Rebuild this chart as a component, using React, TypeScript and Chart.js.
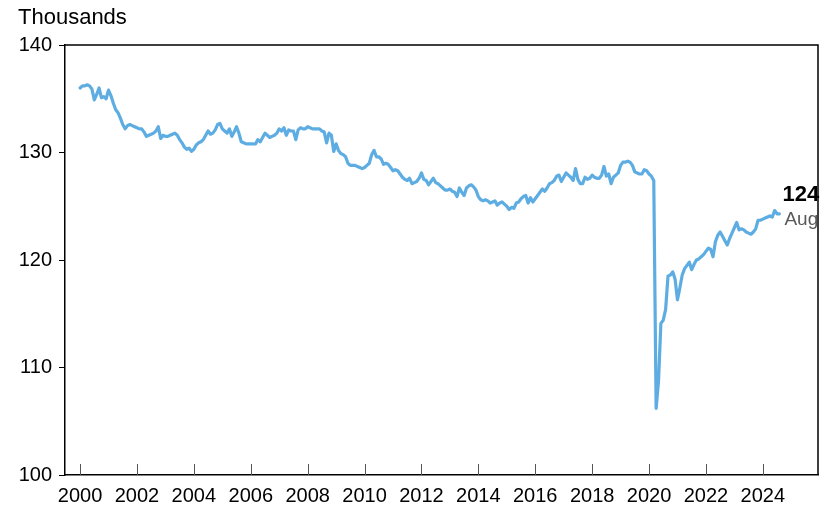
import React, { useEffect, useRef } from "react";
import { Chart, registerables } from "chart.js";

Chart.register(...registerables);

// Monthly values (thousands), Jan 2000 – Aug 2024
const values2000to2004 = [
  136.0, 136.2, 136.2, 136.3, 136.2, 135.9, 134.9, 135.4, 136.0, 135.1, 135.2, 135.0,
  135.8, 135.3, 134.6, 134.0, 133.7, 133.2, 132.6, 132.2, 132.5, 132.6, 132.5, 132.4,
  132.3, 132.2, 132.2, 131.9, 131.5, 131.6, 131.7, 131.8, 132.0, 132.4, 131.3, 131.6,
  131.5, 131.5, 131.6, 131.7, 131.8, 131.6, 131.2, 130.9, 130.5, 130.3, 130.4, 130.1,
  130.3, 130.7, 130.9, 131.0, 131.2, 131.6, 132.0, 131.7, 131.8, 132.1, 132.6, 132.7,
];
const values2005to2009 = [
  132.2, 132.0, 131.8, 132.2, 131.5, 131.9, 132.4, 131.8, 131.0, 130.9, 130.8, 130.8,
  130.8, 130.8, 130.8, 131.2, 131.0, 131.4, 131.8, 131.6, 131.4, 131.5, 131.6, 131.8,
  132.2, 132.0, 132.3, 131.6, 132.1, 132.0, 132.0, 131.2, 132.1, 132.3, 132.2, 132.2,
  132.4, 132.3, 132.2, 132.2, 132.2, 132.2, 132.0, 131.9, 130.9, 131.8, 131.6, 130.1,
  130.8, 130.2, 129.9, 129.8, 129.6, 129.0, 128.8, 128.8, 128.8, 128.7, 128.6, 128.5,
];
const values2010to2014 = [
  128.6, 128.8, 129.0, 129.8, 130.2, 129.6, 129.6, 129.4, 128.9, 129.0, 128.9, 128.6,
  128.3, 128.4, 128.3, 128.0, 127.7, 127.5, 127.4, 127.6, 127.1, 127.2, 127.3, 127.6,
  128.1, 127.5, 127.4, 127.0, 127.3, 127.6, 127.2, 127.1, 126.9, 126.7, 126.5, 126.5,
  126.6, 126.4, 126.3, 125.9, 126.7, 126.3, 126.0, 126.7, 126.9, 127.0, 126.8, 126.5,
  125.9, 125.6, 125.5, 125.6, 125.5, 125.3, 125.4, 125.5, 125.1, 125.3, 125.4, 125.2,
];
const values2015to2019 = [
  125.0, 124.7, 124.9, 124.8, 125.3, 125.4, 125.7, 125.9, 126.0, 125.3, 125.8, 125.4,
  125.7, 126.0, 126.3, 126.6, 126.4, 126.7, 127.1, 127.2, 127.4, 127.8, 127.9, 127.3,
  127.7, 128.1, 127.9, 127.7, 127.4, 128.5, 127.5, 127.1, 127.1, 127.7, 127.5, 127.6,
  127.9, 127.7, 127.6, 127.6, 127.9, 128.7, 127.8, 128.0, 127.1, 127.7, 127.9, 128.1,
  128.8, 129.1, 129.1, 129.2, 129.1, 128.8, 128.2, 128.1, 128.0, 128.0, 128.4, 128.3,
];
const values2020to2024 = [
  128.0, 127.8, 127.4, 106.2, 108.7, 114.1, 114.4, 115.4, 118.5, 118.6, 118.9, 118.2,
  116.3, 117.4, 118.6, 119.2, 119.5, 119.8, 119.1, 119.6, 120.0, 120.1, 120.3, 120.5,
  120.8, 121.1, 121.0, 120.3, 121.7, 122.3, 122.6, 122.2, 121.8, 121.4, 122.0, 122.5,
  123.0, 123.5, 122.8, 122.9, 122.8, 122.6, 122.5, 122.4, 122.6, 122.9, 123.7, 123.7,
  123.8, 123.9, 124.0, 124.1, 124.0, 124.6, 124.3, 124.3,
];

const startYear = 2000;
const xTickYears = [2000, 2002, 2004, 2006, 2008, 2010, 2012, 2014, 2016, 2018, 2020, 2022, 2024];
const yTicks = [100, 110, 120, 130, 140];
const unitLabel = "Thousands";
const lastValueLabel = "124";
const lastMonthLabel = "Aug";

const FONT = "'Liberation Sans', Arial, Helvetica, sans-serif";
const LINE_COLOR = "#5eade2";

export default function App() {
  const canvasRef = useRef<HTMLCanvasElement | null>(null);

  useEffect(() => {
    const canvas = canvasRef.current;
    if (!canvas) return;
    const allValues = [
      ...values2000to2004,
      ...values2005to2009,
      ...values2010to2014,
      ...values2015to2019,
      ...values2020to2024,
    ];
    const points = allValues.map((v, i) => ({ x: startYear + i / 12, y: v }));

    const framePlugin = {
      id: "frameAndText",
      afterDraw(chart: any) {
        const { ctx, chartArea, scales } = chart;
        const xs = scales.x;
        const ys = scales.y;
        ctx.save();
        // top & right frame
        ctx.strokeStyle = "#000";
        ctx.lineWidth = 1.5;
        ctx.beginPath();
        ctx.moveTo(chartArea.left, chartArea.top);
        ctx.lineTo(chartArea.right, chartArea.top);
        ctx.lineTo(chartArea.right, chartArea.bottom);
        ctx.stroke();
        // inward x ticks
        ctx.strokeStyle = "#555";
        ctx.lineWidth = 1;
        xs.ticks.forEach((t: any) => {
          const px = Math.round(xs.getPixelForValue(t.value)) + 0.5;
          ctx.beginPath();
          ctx.moveTo(px, chartArea.bottom);
          ctx.lineTo(px, chartArea.bottom - 11);
          ctx.stroke();
        });
        // unit label
        ctx.fillStyle = "#000";
        ctx.font = `22px ${FONT}`;
        ctx.textAlign = "left";
        ctx.textBaseline = "alphabetic";
        ctx.fillText(unitLabel, 18, 24);
        // last value annotation
        const last = points[points.length - 1];
        const lx = xs.getPixelForValue(last.x);
        const ly = ys.getPixelForValue(last.y);
        ctx.font = `bold 22px ${FONT}`;
        ctx.textBaseline = "middle";
        ctx.fillStyle = "#000";
        ctx.fillText(lastValueLabel, lx + 3, ly - 19);
        ctx.font = `19px ${FONT}`;
        ctx.fillStyle = "#595959";
        ctx.fillText(lastMonthLabel, lx + 5, ly + 6);
        ctx.restore();
      },
    };

    const chart = new Chart(canvas, {
      type: "line",
      data: {
        datasets: [
          {
            data: points,
            borderColor: LINE_COLOR,
            borderWidth: 3.2,
            pointRadius: 0,
            tension: 0,
            borderJoinStyle: "round",
            borderCapStyle: "round",
            fill: false,
          },
        ],
      },
      options: {
        responsive: false,
        animation: false,
        layout: { padding: { top: 45, right: 8, left: 0, bottom: 0 } },
        plugins: {
          legend: { display: false },
          tooltip: { enabled: false },
          title: { display: false },
        },
        scales: {
          x: {
            type: "linear",
            min: 1999.47,
            max: 2025.94,
            afterBuildTicks: (scale: any) => {
              scale.ticks = xTickYears.map((v) => ({ value: v }));
            },
            afterFit: (scale: any) => {
              scale.height = 33;
            },
            grid: { display: false, drawTicks: false },
            border: { display: true, color: "#000", width: 1.5 },
            ticks: {
              color: "#000",
              font: { family: FONT, size: 20 },
              padding: 9,
              maxRotation: 0,
              autoSkip: false,
              callback: (v: any) => String(v),
            },
          },
          y: {
            type: "linear",
            min: 100,
            max: 140,
            afterBuildTicks: (scale: any) => {
              scale.ticks = yTicks.map((v) => ({ value: v }));
            },
            afterFit: (scale: any) => {
              scale.width = 65;
            },
            grid: {
              display: true,
              drawOnChartArea: false,
              drawTicks: true,
              tickLength: 6,
              color: "#000",
              lineWidth: 1,
            },
            border: { display: true, color: "#000", width: 1.5 },
            ticks: {
              color: "#000",
              font: { family: FONT, size: 20 },
              padding: 7,
              callback: (v: any) => String(v),
            },
          },
        },
      },
      plugins: [framePlugin],
    });
    return () => chart.destroy();
  }, []);

  return (
    <div style={{ position: "absolute", left: 0, top: 0, width: 826, height: 508, background: "#fff" }}>
      <canvas ref={canvasRef} width={826} height={508} style={{ display: "block" }} />
    </div>
  );
}
